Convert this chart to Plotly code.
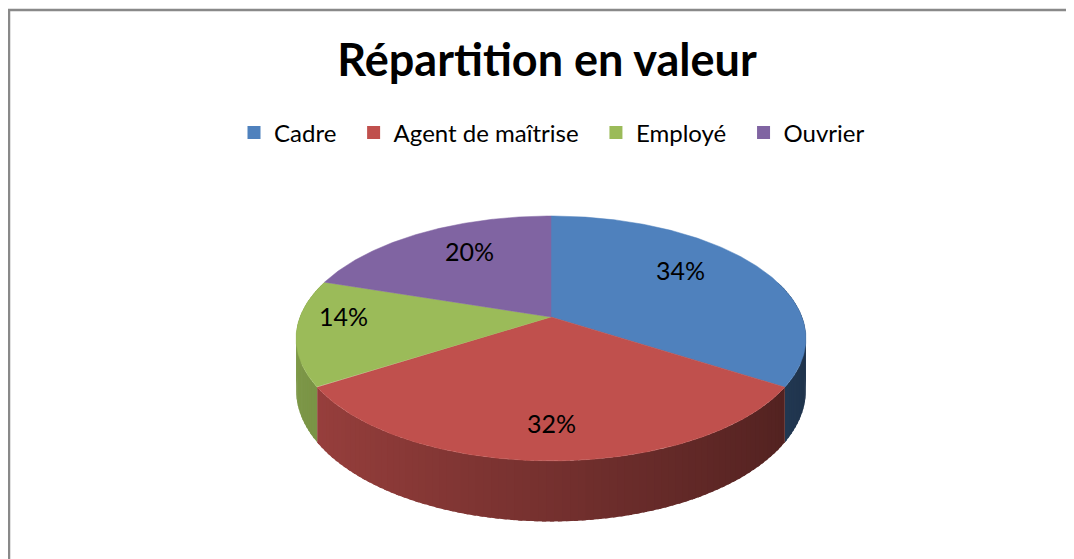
import numpy as np
import plotly.graph_objects as go

# ---- data ----
categories = ["Cadre", "Agent de maîtrise", "Employé", "Ouvrier"]
values = [34, 32, 14, 20]
title_text = "Répartition en valeur"

# ---- styles / geometry ----
colors = ["#4F81BD", "#C0504D", "#9BBB59", "#8064A2"]
label_r = [0.62, 0.85, 0.82, 0.60]
LABEL_DY = -13
W, H = 1074, 559
OFF = 8  # page body margin
CX, CY = 551, 317
RX, K, P = 251, 118.7, 0.175
DEPTH = 50
FONT = "Lato"
LEGEND_PAD = "\u00a0\u00a0"


def hex_rgb(h):
    h = h.lstrip("#")
    return [int(h[i:i + 2], 16) for i in (0, 2, 4)]


def shade(h, f):
    r, g, b = hex_rgb(h)
    return "rgb(%d,%d,%d)" % (int(r * f), int(g * f), int(b * f))


def proj(theta_deg, f=1.0):
    t = np.radians(theta_deg)
    u = f * np.sin(t)
    v = f * np.cos(t)
    s = 1 + P * v
    return CX + RX * u / s, CY - K * v / s, s


total = float(sum(values))
starts, ends = [], []
acc = 0.0
for v in values:
    starts.append(acc / total * 360.0)
    acc += v
    ends.append(acc / total * 360.0)

fig = go.Figure()

# side walls (drawn first)
for i, col in enumerate(colors):
    a0, a1 = starts[i], ends[i]
    edges = list(np.arange(a0, a1, 1.5)) + [a1]
    for b0, b1 in zip(edges[:-1], edges[1:]):
        mid = 0.5 * (b0 + b1)
        if np.cos(np.radians(mid)) > 0.3:
            continue
        th = np.linspace(b0, min(b1 + 0.8, a1), 6)
        x, y, s = proj(th)
        yb = y + DEPTH / s
        f = 0.61 - 0.21 * np.sin(np.radians(mid))
        c = shade(col, f)
        fig.add_trace(go.Scatter(
            x=np.concatenate([x, x[::-1]]),
            y=np.concatenate([y, yb[::-1]]),
            fill="toself", fillcolor=c, mode="lines",
            line=dict(color=c, width=0), hoverinfo="skip", showlegend=False))

# top faces
for i, col in enumerate(colors):
    th = np.linspace(starts[i], ends[i], 200)
    x, y, s = proj(th)
    fig.add_trace(go.Scatter(
        x=np.concatenate([[CX], x, [CX]]),
        y=np.concatenate([[CY], y, [CY]]),
        fill="toself", fillcolor=col, mode="lines",
        line=dict(color=col, width=0.5),
        name=categories[i], hoverinfo="text",
        text="%s: %d%%" % (categories[i], values[i]), showlegend=False))

# legend entries
for i, col in enumerate(colors):
    pad = LEGEND_PAD if i < len(colors) - 1 else ""
    fig.add_trace(go.Scatter(
        x=[None], y=[None], mode="markers", name=categories[i] + pad,
        marker=dict(symbol="square", size=13, color=col)))

# labels
for i in range(len(values)):
    mid = 0.5 * (starts[i] + ends[i])
    lx, ly, _ = proj(mid, label_r[i])
    fig.add_annotation(x=lx, y=ly + LABEL_DY, text="%d%%" % round(values[i] / total * 100),
                       showarrow=False, font=dict(family=FONT, size=25, color="black"))

fig.add_shape(type="rect", xref="paper", yref="paper",
              x0=(9 - OFF) / W, y0=1 - (10 - OFF) / H, x1=1.02, y1=-0.03,
              line=dict(color="#898989", width=2.5), fillcolor="rgba(0,0,0,0)")

fig.update_layout(
    width=W, height=H,
    margin=dict(l=0, r=0, t=0, b=0),
    paper_bgcolor="white", plot_bgcolor="white",
    title=dict(text=title_text, x=(547 - OFF) / W, xanchor="center",
               y=1 - (60 - OFF) / H, yanchor="middle",
               font=dict(family=FONT, size=45, color="black", weight="bold")),
    legend=dict(orientation="h", x=(552 - OFF) / W, xanchor="center",
                y=1 - (133 - OFF) / H, yanchor="middle",
                font=dict(family=FONT, size=24, color="black"), itemwidth=30),
    xaxis=dict(range=[OFF, W + OFF], visible=False, fixedrange=True),
    yaxis=dict(range=[H + OFF, OFF], visible=False, fixedrange=True),
    showlegend=True,
)

fig.write_html("out.html")
